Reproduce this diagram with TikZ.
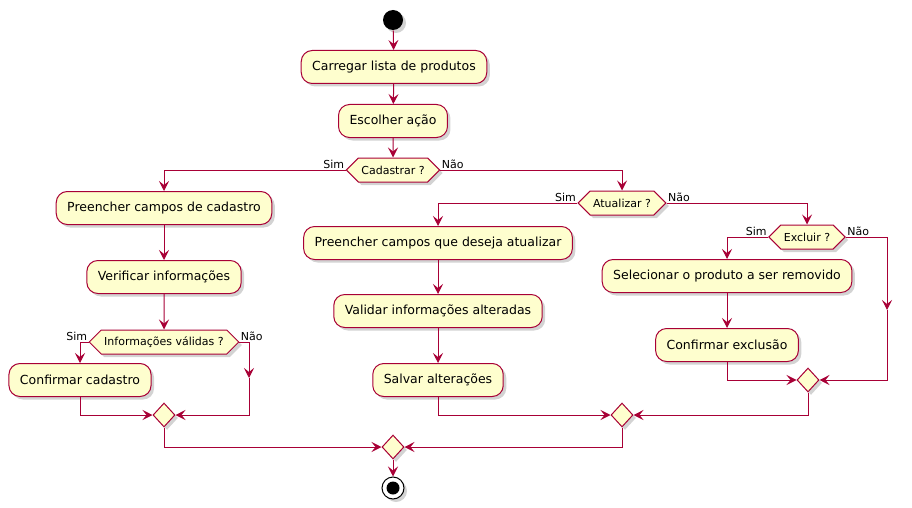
\documentclass[tikz,border=0pt]{standalone}
\usepackage{fontspec}
\setmainfont{DejaVu Sans}
\usetikzlibrary{arrows.meta,shapes.geometric,shapes.symbols,shadows}
\definecolor{borda}{HTML}{A80036}
\definecolor{fundo}{HTML}{FEFECE}

\begin{document}
\begin{tikzpicture}[x=1pt, y=-1pt, line width=1pt,
        every node/.append style={font=\fontsize{12.5}{15}\selectfont}]
      \tikzstyle{sombra} = [drop shadow={shadow xshift=3pt, shadow yshift=-3pt, opacity=0.35}]
      \tikzstyle{acao} = [draw=borda, fill=fundo, rounded corners=11pt, minimum height=33pt,
        inner xsep=11pt, sombra]
      \tikzstyle{decisao} = [draw=borda, fill=fundo, signal, signal to=west and east,
        signal pointer angle=90, minimum height=24pt, inner xsep=3pt, inner ysep=0pt,
        font=\fontsize{11}{13}\selectfont, sombra]
      \tikzstyle{juncao} = [draw=borda, fill=fundo, diamond, minimum width=22pt,
        minimum height=24pt, inner sep=0pt, sombra]
      \tikzstyle{rotulo} = [font=\fontsize{11}{13}\selectfont, inner sep=1pt]
      \tikzstyle{flow} = [draw=borda, -{Stealth[length=10pt, width=10pt, inset=4pt]}]
      \useasboundingbox (0,0) rectangle (912,508);

      % inicio e fluxo principal
      \node (inicio) [circle, fill=black, minimum size=20pt, inner sep=0pt, sombra] at (393,20) {};
      \node (carregar) [acao] at (394,67) {Carregar lista de produtos};
      \node (escolher) [acao] at (393,121) {Escolher ação};
      \node (cadastrar) [decisao] at (393,170) {Cadastrar ?};
      \node [rotulo, anchor=south east] at (cadastrar.west) {Sim};
      \node [rotulo, anchor=south west] at (cadastrar.east) {Não};

      % ramo cadastro
      \node (preencherCad) [acao] at (164,208) {Preencher campos de cadastro};
      \node (verificar) [acao] at (164,277) {Verificar informações};
      \node (validas) [decisao] at (164,342) {Informações válidas ?};
      \node [rotulo, anchor=south east] at (validas.west) {Sim};
      \node [rotulo, anchor=south west] at (validas.east) {Não};
      \node (confCad) [acao] at (80,380) {Confirmar cadastro};
      \coordinate (naoValidas) at (249,378);
      \node (juncaoCad) [juncao] at (164,415) {};

      % ramo atualizar
      \node (atualizar) [decisao] at (622,203) {Atualizar ?};
      \node [rotulo, anchor=south east] at (atualizar.west) {Sim};
      \node [rotulo, anchor=south west] at (atualizar.east) {Não};
      \node (preencherAtu) [acao] at (438,243) {Preencher campos que deseja atualizar};
      \node (validar) [acao] at (438,311) {Validar informações alteradas};
      \node (salvar) [acao] at (438,380) {Salvar alterações};
      \node (juncaoAtu) [juncao] at (622,415) {};

      % ramo excluir
      \node (excluir) [decisao] at (807,237) {Excluir ?};
      \node [rotulo, anchor=south east] at (excluir.west) {Sim};
      \node [rotulo, anchor=south west] at (excluir.east) {Não};
      \node (selecionar) [acao] at (727,276) {Selecionar o produto a ser removido};
      \node (confExc) [acao] at (727,345) {Confirmar exclusão};
      \coordinate (naoExcluir) at (887,310);
      \node (juncaoExc) [juncao] at (808,380) {};

      % fim
      \node (juncaoFim) [juncao] at (393,447) {};
      \node (fim) [circle, draw=black, fill=white, minimum size=22pt, inner sep=0pt, sombra] at (393,488) {};
      \fill (fim) circle (6.5pt);

      \draw[flow] (inicio) -- (carregar);
      \draw[flow] (carregar) -- (escolher);
      \draw[flow] (escolher) -- (cadastrar);
      \draw[flow] (cadastrar.west) -| (preencherCad);
      \draw[flow] (cadastrar.east) -| (atualizar);
      \draw[flow] (preencherCad) -- (verificar);
      \draw[flow] (verificar) -- (validas);
      \draw[flow] (validas.west) -| (confCad);
      \draw[flow] (validas.east) -| (naoValidas);
      \draw[flow] (confCad) |- (juncaoCad);
      \draw[flow] (naoValidas) |- (juncaoCad);
      \draw[flow] (atualizar.west) -| (preencherAtu);
      \draw[flow] (atualizar.east) -| (excluir);
      \draw[flow] (preencherAtu) -- (validar);
      \draw[flow] (validar) -- (salvar);
      \draw[flow] (salvar) |- (juncaoAtu);
      \draw[flow] (excluir.west) -| (selecionar);
      \draw[flow] (excluir.east) -| (naoExcluir);
      \draw[flow] (selecionar) -- (confExc);
      \draw[flow] (confExc) |- (juncaoExc);
      \draw[flow] (naoExcluir) |- (juncaoExc);
      \draw[flow] (juncaoExc) |- (juncaoAtu);
      \draw[flow] (juncaoCad) |- (juncaoFim);
      \draw[flow] (juncaoAtu) |- (juncaoFim);
      \draw[flow] (juncaoFim) -- (fim);
    \end{tikzpicture}
\end{document}
